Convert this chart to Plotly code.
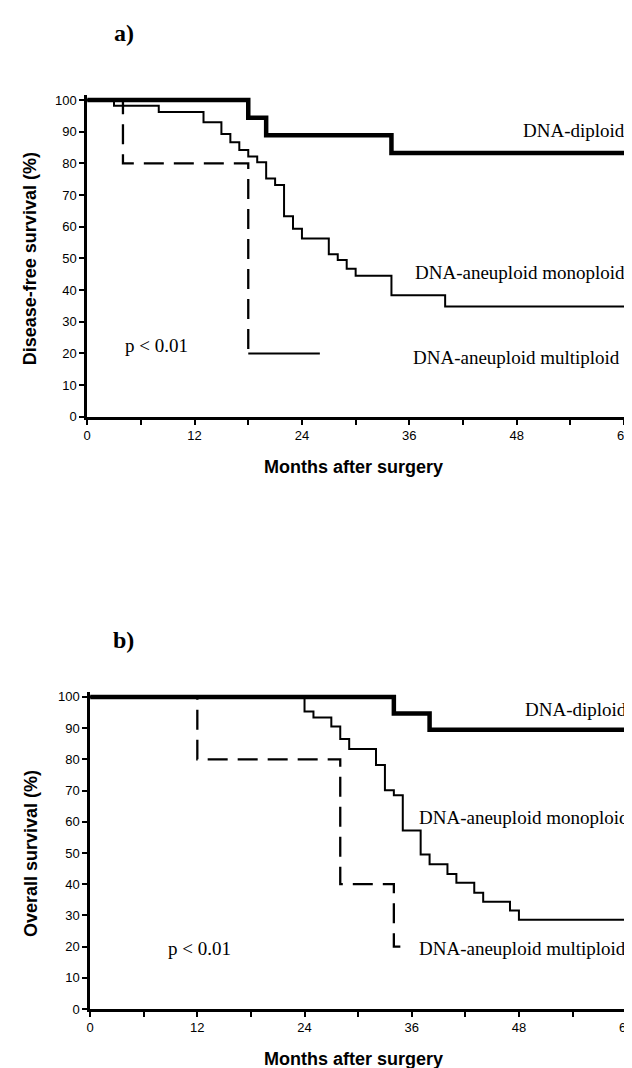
import plotly.graph_objects as go

# ---------------- data (a) disease-free survival ----------------
a_dip_t = [0, 18, 20, 34, 60]
a_dip_s = [100, 94.4, 88.9, 83.3, 83.3]

a_mono_t = [0, 3, 8, 13, 15, 16, 17, 18, 19, 20, 21, 22, 23, 24, 27, 28, 29, 30, 34, 40, 60]
a_mono_s = [100, 98.2, 96.2, 93.0, 89.3, 86.7, 84.2, 82.2, 80.4, 75.2, 73.2, 63.3, 59.4, 56.3,
            51.3, 49.5, 46.7, 44.5, 38.4, 34.8, 34.8]

a_multi_t = [0, 4, 18, 26]
a_multi_s = [100, 80, 20, 20]

# ---------------- data (b) overall survival ----------------
b_dip_t = [0, 34, 38, 60]
b_dip_s = [100, 94.7, 89.5, 89.5]

b_mono_t = [0, 24, 25, 27, 28, 29, 32, 33, 34, 35, 37, 38, 40, 41, 43, 44, 47, 48, 60]
b_mono_s = [100, 95.3, 93.4, 90.5, 86.5, 83.3, 78.2, 70.1, 68.5, 57.2, 49.5, 46.4, 43.3,
            40.5, 37.3, 34.4, 31.6, 28.6, 28.6]

b_multi_t = [0, 12, 28, 34, 35.3]
b_multi_s = [100, 80, 40, 20, 20]

x_tickvals = [0, 6, 12, 18, 24, 30, 36, 42, 48, 54, 60]
x_ticktext = ["0", "", "12", "", "24", "", "36", "", "48", "", "60"]
y_tickvals = [0, 10, 20, 30, 40, 50, 60, 70, 80, 90, 100]

group_labels = ["DNA-diploid", "DNA-aneuploid monoploid", "DNA-aneuploid multiploid"]

SERIF = "Liberation Serif, Times New Roman, serif"
SANS = "Liberation Sans, Arial, sans-serif"

fig = go.Figure()

def add_curves(t_d, s_d, t_m, s_m, t_x, s_x, xa, ya, multi_solid_tail):
    fig.add_trace(go.Scatter(x=t_d, y=s_d, mode="lines", line=dict(shape="hv", color="black", width=4.5),
                             xaxis=xa, yaxis=ya, showlegend=False))
    fig.add_trace(go.Scatter(x=t_m, y=s_m, mode="lines", line=dict(shape="hv", color="black", width=2),
                             xaxis=xa, yaxis=ya, showlegend=False))
    if multi_solid_tail:
        fig.add_trace(go.Scatter(x=t_x[:-1], y=s_x[:-1], mode="lines",
                                 line=dict(shape="hv", color="black", width=2.3, dash="20px,10px"),
                                 xaxis=xa, yaxis=ya, showlegend=False))
        fig.add_trace(go.Scatter(x=t_x[-2:], y=s_x[-2:], mode="lines",
                                 line=dict(shape="hv", color="black", width=2),
                                 xaxis=xa, yaxis=ya, showlegend=False))
    else:
        fig.add_trace(go.Scatter(x=t_x, y=s_x, mode="lines",
                                 line=dict(shape="hv", color="black", width=2.3, dash="20px,10px"),
                                 xaxis=xa, yaxis=ya, showlegend=False))

add_curves(a_dip_t, a_dip_s, a_mono_t, a_mono_s, a_multi_t, a_multi_s, "x", "y", True)
add_curves(b_dip_t, b_dip_s, b_mono_t, b_mono_s, b_multi_t, b_multi_s, "x2", "y2", False)

W, H = 632, 1068

# pixel geometry of the two panels
a_x0, a_x60 = 76, 619
b_x0, b_x60 = 79, 621
XR = 60.5

def xdom(x0, x60):
    ppm = (x60 - x0) / 60.0
    return [x0 / W, (x0 + ppm * XR) / W]

axis_x = dict(range=[0, XR], tickvals=x_tickvals, ticktext=x_ticktext, showline=True,
              linecolor="black", linewidth=2.5, ticks="outside", ticklen=5, tickwidth=2,
              tickcolor="black", showgrid=False, zeroline=False,
              tickfont=dict(family=SANS, size=13, color="black"))
axis_y = dict(range=[0, 101.5], tickvals=y_tickvals, showline=True, linecolor="black",
              linewidth=2.5, ticks="outside", ticklen=5, tickwidth=2, tickcolor="black",
              showgrid=False, zeroline=False, tickfont=dict(family=SANS, size=13, color="black"))

fig.update_layout(
    width=W, height=H,
    margin=dict(l=0, r=0, t=0, b=0),
    paper_bgcolor="white", plot_bgcolor="white",
    xaxis=dict(axis_x, domain=xdom(a_x0, a_x60), anchor="y"),
    yaxis=dict(axis_y, domain=[1 - 410 / H, 1 - 85.2 / H], anchor="x"),
    xaxis2=dict(axis_x, domain=xdom(b_x0, b_x60), anchor="y2"),
    yaxis2=dict(axis_y, domain=[1 - 1008.5 / H, 1 - 688.3 / H], anchor="x2"),
)

ann = []
def lab(text, x, y, xa, ya, xanchor):
    ann.append(dict(text=text, x=x, y=y, xref=xa, yref=ya, xanchor=xanchor, yanchor="middle",
                    showarrow=False, font=dict(family=SERIF, size=19, color="black")))

# panel a labels
lab(group_labels[0], 60.3, 90.3, "x", "y", "right")
lab(group_labels[1], 60.3, 45.6, "x", "y", "right")
lab(group_labels[2], 36.2, 18.8, "x", "y", "left")
lab("p &lt; 0.01", 4.0, 22.5, "x", "y", "left")
# panel b labels
lab(group_labels[0], 60.3, 95.9, "x2", "y2", "right")
lab(group_labels[1], 36.6, 61.3, "x2", "y2", "left")
lab(group_labels[2], 36.6, 19.5, "x2", "y2", "left")
lab("p &lt; 0.01", 8.5, 19.5, "x2", "y2", "left")

# panel letters
for t, py in [("a)", 22), ("b)", 636)]:
    ann.append(dict(text="<b>%s</b>" % t, x=113 / W, y=1 - py / H, xref="paper", yref="paper",
                    xanchor="center", yanchor="middle", showarrow=False,
                    font=dict(family=SERIF, size=24, color="black")))

# axis titles
for t, py in [("Months after surgery", 461), ("Months after surgery", 1059)]:
    ann.append(dict(text="<b>%s</b>" % t, x=345 / W, y=1 - py / H, xref="paper", yref="paper",
                    xanchor="center", yanchor="middle", showarrow=False,
                    font=dict(family=SANS, size=18, color="black")))
for t, py in [("Disease-free survival (%)", 250), ("Overall survival (%)", 851)]:
    ann.append(dict(text="<b>%s</b>" % t, x=19 / W, y=1 - py / H, xref="paper", yref="paper",
                    xanchor="center", yanchor="middle", textangle=-90, showarrow=False,
                    font=dict(family=SANS, size=18, color="black")))

fig.update_layout(annotations=ann)
fig.write_html("out.html")
